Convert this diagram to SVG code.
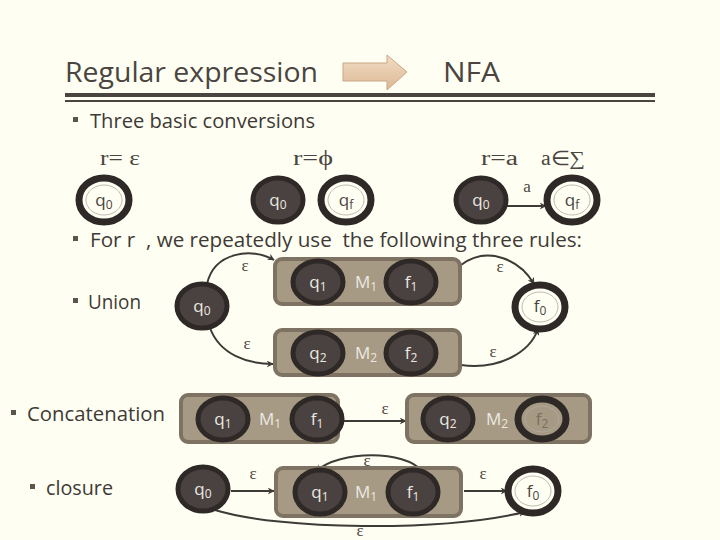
<svg xmlns="http://www.w3.org/2000/svg" width="720" height="540" viewBox="0 0 720 540">
<defs>
<linearGradient id="ag" x1="0" y1="0" x2="0" y2="1">
<stop offset="0" stop-color="#f2dcc4"/><stop offset="1" stop-color="#dcb894"/>
</linearGradient>
<marker id="ah" viewBox="0 0 10 10" refX="9" refY="5" markerWidth="7" markerHeight="7" markerUnits="userSpaceOnUse" orient="auto">
<path d="M0,0 L10,5 L0,10 L3,5 z" fill="#3e3a36"/>
</marker>
</defs>
<style>
.bg{fill:#fefef3}
.h{font-family:"Open Sans","Noto Sans","Liberation Sans",sans-serif;font-size:27px;fill:#4a4540}
.b{font-family:"Open Sans","Noto Sans","Liberation Sans",sans-serif;font-size:20px;fill:#3e3a36}
.bul{fill:#5a554e}
.s{font-family:"Liberation Serif",serif;font-size:20px;fill:#4a4540}
.e{font-family:"Liberation Serif",serif;font-size:17px;fill:#4a4540;text-anchor:middle}
.n{fill:#4a4240;stroke:#2e2926;stroke-width:5}
.r{fill:#fefef3;stroke:#2e2926;stroke-width:7}
.ri{fill:none;stroke:#b0aaa0;stroke-width:0.8}
.box{fill:#a69a84;stroke:#7e7262;stroke-width:4}
.t{font-family:"Open Sans","Noto Sans","Liberation Sans",sans-serif;font-size:17px;fill:#ece8e0;text-anchor:middle}
.td{font-family:"Open Sans","Noto Sans","Liberation Sans",sans-serif;font-size:17px;fill:#4a4540;text-anchor:middle}
.tb{font-family:"Open Sans","Noto Sans","Liberation Sans",sans-serif;font-size:17px;fill:#7a6e5e;text-anchor:middle}
.sub{font-size:12px}
.c{fill:none;stroke:#3e3a36;stroke-width:2;marker-end:url(#ah)}
</style>
<rect class="bg" x="0" y="0" width="720" height="540"/>

<g id="title">
<text class="h" x="65" y="82" textLength="253" lengthAdjust="spacingAndGlyphs">Regular expression</text>
<polygon points="343,63 387,63 387,55 407,72 387,90 387,81 343,81" fill="url(#ag)" stroke="#c9a886" stroke-width="1"/>
<text class="h" x="443" y="82" textLength="57" lengthAdjust="spacingAndGlyphs">NFA</text>
<rect x="65" y="93" width="590" height="4" fill="#4a4540"/>
<rect x="65" y="100" width="590" height="2" fill="#4a4540"/>
</g>

<g id="bullets">
<rect class="bul" x="73" y="117" width="5" height="5"/>
<text class="b" x="90" y="128" textLength="225" lengthAdjust="spacingAndGlyphs">Three basic conversions</text>
<rect class="bul" x="73" y="236" width="5" height="5"/>
<text class="b" x="90" y="247" xml:space="preserve" textLength="492" lengthAdjust="spacingAndGlyphs">For r  , we repeatedly use  the following three rules:</text>
<rect class="bul" x="73" y="298" width="5" height="5"/>
<text class="b" x="88" y="309" textLength="53" lengthAdjust="spacingAndGlyphs">Union</text>
<rect class="bul" x="11" y="410" width="5" height="5"/>
<text class="b" x="27" y="421" textLength="138" lengthAdjust="spacingAndGlyphs">Concatenation</text>
<rect class="bul" x="30" y="484" width="5" height="5"/>
<text class="b" x="46" y="495" textLength="67" lengthAdjust="spacingAndGlyphs">closure</text>
</g>

<g id="basic-labels">
<text class="s" x="100" y="165" textLength="40" lengthAdjust="spacingAndGlyphs">r= ε</text>
<text class="s" x="293" y="165" textLength="40" lengthAdjust="spacingAndGlyphs">r=ϕ</text>
<text class="s" x="481" y="165" textLength="37" lengthAdjust="spacingAndGlyphs">r=a</text>
<text class="s" x="541" y="165" textLength="44" lengthAdjust="spacingAndGlyphs">a∈∑</text>
</g>

<g id="connectors">
<path class="c" d="M506,206 L546,206"/>
<text class="e" x="527" y="192">a</text>
<path class="c" d="M207,284 C214,252 252,247 274,260"/>
<text class="e" x="245" y="271">ε</text>
<path class="c" d="M210,328 C220,355 248,364 273,364"/>
<text class="e" x="247" y="349">ε</text>
<path class="c" d="M461,265 C488,245 520,260 534,284"/>
<text class="e" x="500" y="272">ε</text>
<path class="c" d="M461,365 C500,370 530,352 538,329"/>
<text class="e" x="493" y="357">ε</text>
<path class="c" d="M340,421 L406,421"/>
<text class="e" x="385" y="414">ε</text>
<path class="c" d="M231,491 L274,491"/>
<text class="e" x="253" y="479">ε</text>
<path class="c" d="M422,471 C405,450 340,450 316,471"/>
<text class="e" x="367" y="466">ε</text>
<path class="c" d="M464,491 L507,491"/>
<text class="e" x="483" y="479">ε</text>
<path class="c" d="M215,510 C280,530 440,532 525,512"/>
<text class="e" x="360" y="536">ε</text>
</g>

<g id="b-eps-q0">
<ellipse class="r" cx="104" cy="200" rx="25" ry="22"/>
<ellipse class="ri" cx="104" cy="200" rx="18" ry="15"/>
<text class="td" x="104" y="206">q<tspan class="sub" dy="3">0</tspan></text>
</g>
<g id="b-phi-q0">
<ellipse class="n" cx="278" cy="200" rx="25" ry="22"/>
<text class="t" x="278" y="206">q<tspan class="sub" dy="3">0</tspan></text>
</g>
<g id="b-phi-qf">
<ellipse class="r" cx="346" cy="200" rx="25" ry="22"/>
<ellipse class="ri" cx="346" cy="200" rx="18" ry="15"/>
<text class="td" x="346" y="206">q<tspan class="sub" dy="3">f</tspan></text>
</g>
<g id="b-a-q0">
<ellipse class="n" cx="481" cy="200" rx="25" ry="22"/>
<text class="t" x="481" y="206">q<tspan class="sub" dy="3">0</tspan></text>
</g>
<g id="b-a-qf">
<ellipse class="r" cx="572" cy="200" rx="25" ry="22"/>
<ellipse class="ri" cx="572" cy="200" rx="18" ry="15"/>
<text class="td" x="572" y="206">q<tspan class="sub" dy="3">f</tspan></text>
</g>

<g id="u-q0">
<ellipse class="n" cx="202" cy="306" rx="25" ry="22"/>
<text class="t" x="202" y="312">q<tspan class="sub" dy="3">0</tspan></text>
</g>
<g id="u-M1">
<rect class="box" x="275" y="259" width="185" height="45" rx="7"/>
<ellipse class="n" cx="318" cy="282" rx="25" ry="21"/>
<text class="t" x="318" y="288">q<tspan class="sub" dy="3">1</tspan></text>
<text class="t" x="366" y="288">M<tspan class="sub" dy="3">1</tspan></text>
<ellipse class="n" cx="411" cy="282" rx="25" ry="21"/>
<text class="t" x="411" y="288">f<tspan class="sub" dy="3">1</tspan></text>
</g>
<g id="u-M2">
<rect class="box" x="275" y="330" width="185" height="45" rx="7"/>
<ellipse class="n" cx="318" cy="353" rx="25" ry="21"/>
<text class="t" x="318" y="359">q<tspan class="sub" dy="3">2</tspan></text>
<text class="t" x="366" y="359">M<tspan class="sub" dy="3">2</tspan></text>
<ellipse class="n" cx="411" cy="353" rx="25" ry="21"/>
<text class="t" x="411" y="359">f<tspan class="sub" dy="3">2</tspan></text>
</g>
<g id="u-f0">
<ellipse class="r" cx="540" cy="307" rx="25" ry="22"/>
<ellipse class="ri" cx="540" cy="307" rx="18" ry="15"/>
<text class="td" x="540" y="312">f<tspan class="sub" dy="3">0</tspan></text>
</g>

<g id="c-M1">
<rect class="box" x="181" y="395" width="157" height="47" rx="7"/>
<ellipse class="n" cx="223" cy="419" rx="25" ry="21"/>
<text class="t" x="223" y="425">q<tspan class="sub" dy="3">1</tspan></text>
<text class="t" x="270" y="425">M<tspan class="sub" dy="3">1</tspan></text>
<ellipse class="n" cx="317" cy="419" rx="25" ry="21"/>
<text class="t" x="317" y="425">f<tspan class="sub" dy="3">1</tspan></text>
</g>
<g id="c-M2">
<rect class="box" x="407" y="395" width="183" height="47" rx="7"/>
<ellipse class="n" cx="448" cy="419" rx="25" ry="21"/>
<text class="t" x="448" y="425">q<tspan class="sub" dy="3">2</tspan></text>
<text class="t" x="497" y="425">M<tspan class="sub" dy="3">2</tspan></text>
<ellipse class="r" cx="542" cy="419" rx="24" ry="20" style="fill:#a69a84"/>
<ellipse class="ri" cx="542" cy="419" rx="17" ry="13"/>
<text class="tb" x="542" y="425">f<tspan class="sub" dy="3">2</tspan></text>
</g>

<g id="cl-q0">
<ellipse class="n" cx="203" cy="489" rx="25" ry="22"/>
<text class="t" x="203" y="495">q<tspan class="sub" dy="3">0</tspan></text>
</g>
<g id="cl-M1">
<rect class="box" x="276" y="468" width="185" height="48" rx="7"/>
<ellipse class="n" cx="320" cy="492" rx="25" ry="22"/>
<text class="t" x="320" y="498">q<tspan class="sub" dy="3">1</tspan></text>
<text class="t" x="366" y="498">M<tspan class="sub" dy="3">1</tspan></text>
<ellipse class="n" cx="413" cy="492" rx="25" ry="22"/>
<text class="t" x="413" y="498">f<tspan class="sub" dy="3">1</tspan></text>
</g>
<g id="cl-f0">
<ellipse class="r" cx="533" cy="491" rx="25" ry="22"/>
<ellipse class="ri" cx="533" cy="491" rx="18" ry="15"/>
<text class="td" x="533" y="497">f<tspan class="sub" dy="3">0</tspan></text>
</g>
</svg>
